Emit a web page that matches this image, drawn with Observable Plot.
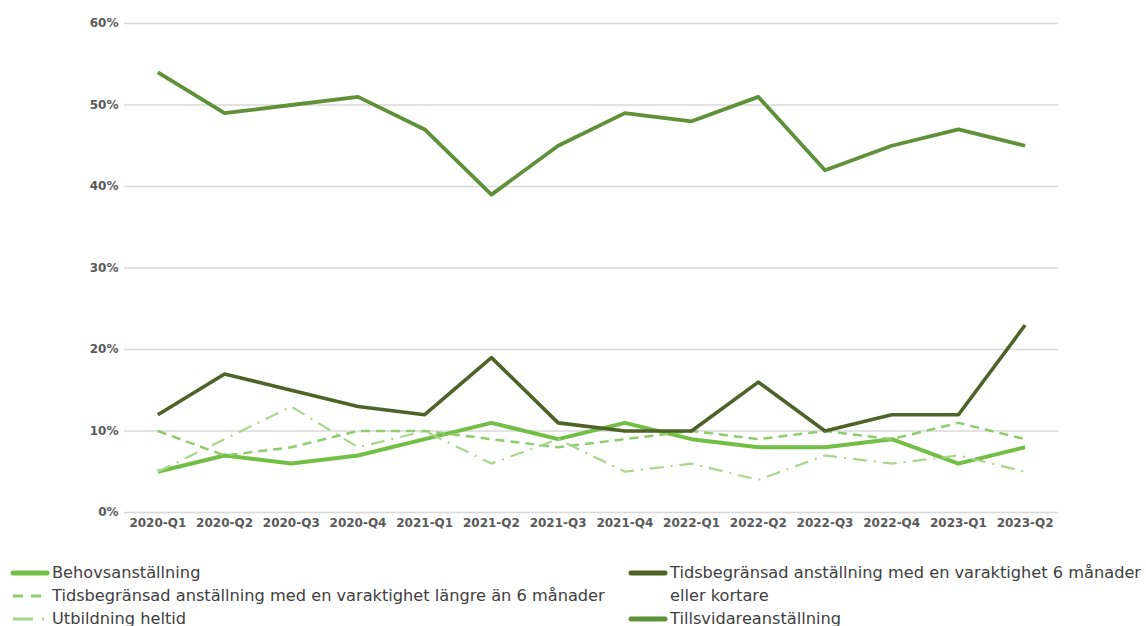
<!DOCTYPE html>
<html>
<head>
<meta charset="utf-8">
<script src="https://cdn.jsdelivr.net/npm/d3@7"></script>
<script src="https://cdn.jsdelivr.net/npm/@observablehq/plot@0.6"></script>
<style>
  html, body { margin: 0; background: #fff; font-family: "DejaVu Sans", sans-serif; overflow: hidden; }
  #chart { width: 1146px; }
  .legend { position: relative; height: 81px; font-size: 16.2px; color: #404040; }
  .col { position: absolute; top: 15.5px; }
  .item { display: flex; align-items: flex-start; line-height: 23px; }
  .sw { width: 40px; height: 23px; margin-right: 2px; flex: none; }
  .col2 .item span { width: 478px; }
</style>
</head>
<body>
<div id="chart"></div>
<script>
const quarters = ["2020-Q1","2020-Q2","2020-Q3","2020-Q4","2021-Q1","2021-Q2","2021-Q3","2021-Q4","2022-Q1","2022-Q2","2022-Q3","2022-Q4","2023-Q1","2023-Q2"];
const behovs = [5, 7, 6, 7, 9, 11, 9, 11, 9, 8, 8, 9, 6, 8];
const tidsLang = [10, 7, 8, 10, 10, 9, 8, 9, 10, 9, 10, 9, 11, 9];
const utbildning = [5, 9, 13, 8, 10, 6, 9, 5, 6, 4, 7, 6, 7, 5];
const tidsKort = [12, 17, 15, 13, 12, 19, 11, 10, 10, 16, 10, 12, 12, 23];
const tillsvidare = [54, 49, 50, 51, 47, 39, 45, 49, 48, 51, 42, 45, 47, 45];
const yTicks = [0, 10, 20, 30, 40, 50, 60];

const series = [
  {name: "Behovsanställning", values: behovs, color: "#71bf44", width: 4, dash: null},
  {name: "Tidsbegränsad anställning med en varaktighet längre än 6 månader", values: tidsLang, color: "#8fcc6b", width: 2.5, dash: "9,6"},
  {name: "Utbildning heltid", values: utbildning, color: "#a8d78c", width: 2.2, dash: "14,7,2,7"},
  {name: "Tidsbegränsad anställning med en varaktighet 6 månader eller kortare", values: tidsKort, color: "#4f6228", width: 3.6, dash: null},
  {name: "Tillsvidareanställning", values: tillsvidare, color: "#5f9138", width: 3.8, dash: null}
];

const lineMarks = series.map(s => Plot.line(
  quarters.map((q, i) => ({q, v: s.values[i]})),
  {x: "q", y: "v", stroke: s.color, strokeWidth: s.width, strokeDasharray: s.dash || undefined, strokeLinejoin: "round", strokeLinecap: "butt"}
));

const plot = Plot.plot({
  width: 1146,
  height: 545,
  marginLeft: 124,
  marginRight: 88,
  marginTop: 23,
  marginBottom: 33,
  style: {fontFamily: "DejaVu Sans, sans-serif", fontSize: "12px", color: "#595959", background: "#fff"},
  x: {type: "band", domain: quarters, label: null, padding: 0, round: false},
  y: {domain: [0, 60], label: null},
  marks: [
    Plot.gridY(yTicks, {stroke: "#d9d9d9", strokeOpacity: 1, strokeWidth: 1.3}),
    Plot.axisY(yTicks, {tickSize: 0, tickPadding: 6, tickFormat: d => d + "%", fontWeight: "bold", fill: "#595959", label: null}),
    Plot.axisX({tickSize: 0, tickPadding: 6, fontWeight: "bold", fill: "#595959", label: null}),
    ...lineMarks
  ]
});
document.getElementById("chart").appendChild(plot);

// legend
const legend = document.createElement("div");
legend.className = "legend";
const cols = [[0, 1, 2], [3, 4]];
const lefts = [10, 628];
cols.forEach((idxs, ci) => {
  const col = document.createElement("div");
  col.className = "col col" + (ci + 1);
  col.style.left = lefts[ci] + "px";
  idxs.forEach(i => {
    const s = series[i];
    const item = document.createElement("div");
    item.className = "item";
    const svg = d3.create("svg").attr("class", "sw").attr("width", 40).attr("height", 23);
    svg.append("line").attr("x1", 3).attr("x2", 37).attr("y1", 12).attr("y2", 12)
      .attr("stroke", s.color).attr("stroke-width", s.dash ? 3 : 5)
      .attr("stroke-linecap", s.dash ? "butt" : "round")
      .attr("stroke-dasharray", s.dash ? (i === 1 ? "10,8" : "20,9,2,9") : null);
    item.appendChild(svg.node());
    const t = document.createElement("span");
    t.textContent = s.name;
    item.appendChild(t);
    col.appendChild(item);
  });
  legend.appendChild(col);
});
document.getElementById("chart").appendChild(legend);
</script>
</body>
</html>
